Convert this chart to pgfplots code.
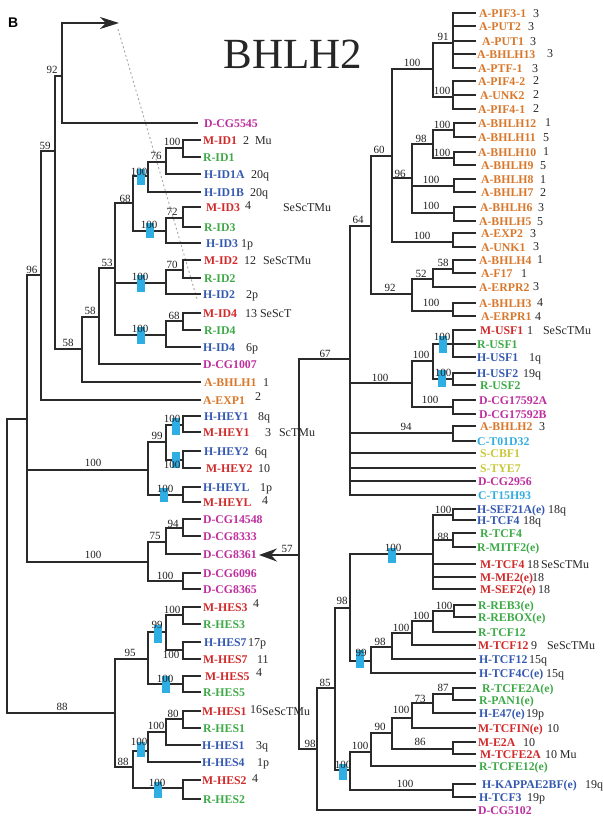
\documentclass[border=0pt]{standalone}
\usepackage{pgfplots}
\pgfplotsset{compat=1.18}
\usepackage{fontspec}
\setmainfont{Liberation Serif}
\newfontfamily\sansfont{Liberation Sans}
\usetikzlibrary{arrows.meta}
\definecolor{cM}{HTML}{D12A2A}
\definecolor{cR}{HTML}{3DAA47}
\definecolor{cH}{HTML}{3559B0}
\definecolor{cD}{HTML}{BF2E9E}
\definecolor{cA}{HTML}{D9772B}
\definecolor{cC}{HTML}{33AEE0}
\definecolor{cS}{HTML}{C9C83A}
\definecolor{cBox}{HTML}{2FAEE3}
\definecolor{cLine}{HTML}{2A2A2A}
\pgfplotsset{
  txtbase/.style={only marks, mark=*, mark size=0pt, mark options={draw=none,fill=none},
    point meta=explicit symbolic, nodes near coords},
  taxon/.style={txtbase, every node near coord/.append style={inner sep=0pt, outer sep=0pt,
    anchor=base west, yshift=-4.5pt, font=\fontsize{11.8}{12}\selectfont\bfseries, text=#1}},
  boot/.style={txtbase, every node near coord/.append style={inner sep=0pt, outer sep=0pt,
    anchor=center, font=\fontsize{11}{12}\selectfont, text=black!88}},
  chrom/.style={txtbase, every node near coord/.append style={inner sep=0pt, outer sep=0pt,
    anchor=base west, yshift=-4.5pt, font=\fontsize{12}{13}\selectfont, text=black!85}},
}
\begin{document}
\begin{tikzpicture}
\begin{axis}[scale only axis, width=603pt, height=823pt,
  xmin=0, xmax=603, ymin=0, ymax=823, y dir=reverse, hide axis, clip=false]
% dotted guide
\addplot[black!35, line width=0.9pt, mark=none, dash pattern=on 2pt off 2.5pt] coordinates {(118,29)(197,299)};
% left tree
\addplot[cLine, line width=1.2pt, mark=none, line cap=rect, unbounded coords=jump] coordinates {
(197,123)(62,123)(62,23) (nan,nan)
(55,76)(62,76) (nan,nan) (41,151)(55,151) (nan,nan) (55,76)(55,349) (nan,nan)
(200,140)(183,140)(183,157)(200,157) (nan,nan) (166,148)(183,148) (nan,nan)
(200,174)(166,174)(166,148) (nan,nan) (148,162)(166,162) (nan,nan)
(200,192)(148,192)(148,162) (nan,nan) (133,176)(148,176) (nan,nan)
(200,207)(183,207)(183,227)(200,227) (nan,nan) (166,218)(183,218) (nan,nan)
(200,243)(166,243)(166,218) (nan,nan) (133,231)(166,231) (nan,nan)
(133,176)(133,231) (nan,nan) (115,203)(133,203) (nan,nan)
(200,260)(183,260)(183,278)(200,278) (nan,nan) (166,270)(183,270) (nan,nan)
(200,294)(166,294)(166,270) (nan,nan) (115,283)(166,283) (nan,nan)
(200,313)(183,313)(183,330)(200,330) (nan,nan) (166,321)(183,321) (nan,nan)
(200,347)(166,347)(166,321) (nan,nan) (115,335)(166,335) (nan,nan)
(115,203)(115,335) (nan,nan) (99,268)(115,268) (nan,nan)
(200,364)(99,364)(99,268) (nan,nan) (82,317)(99,317) (nan,nan)
(200,382)(82,382)(82,317) (nan,nan) (55,349)(82,349) (nan,nan)
(200,400)(41,400)(41,151) (nan,nan) (27,275)(41,275) (nan,nan)
(200,416)(183,416)(183,432)(200,432) (nan,nan) (166,425)(183,425) (nan,nan)
(200,451)(183,451)(183,468)(200,468) (nan,nan) (166,460)(183,460) (nan,nan)
(166,425)(166,460) (nan,nan) (148,442)(166,442) (nan,nan)
(200,487)(183,487)(183,502)(200,502) (nan,nan) (148,495)(183,495) (nan,nan)
(148,442)(148,495) (nan,nan) (27,470)(148,470) (nan,nan)
(200,519)(183,519)(183,536)(200,536) (nan,nan) (166,528)(183,528) (nan,nan)
(200,554)(166,554)(166,528) (nan,nan) (148,542)(166,542) (nan,nan)
(200,573)(183,573)(183,589)(200,589) (nan,nan) (148,581)(183,581) (nan,nan)
(148,542)(148,581) (nan,nan) (27,562)(148,562) (nan,nan)
(27,275)(27,562) (nan,nan) (7,419)(27,419) (nan,nan)
(200,607)(183,607)(183,624)(200,624) (nan,nan) (166,615)(183,615) (nan,nan)
(200,642)(183,642)(183,659)(200,659) (nan,nan) (166,650)(183,650) (nan,nan)
(166,615)(166,650) (nan,nan) (148,632)(166,632) (nan,nan)
(200,676)(183,676)(183,692)(200,692) (nan,nan) (148,684)(183,684) (nan,nan)
(148,632)(148,684) (nan,nan) (115,659)(148,659) (nan,nan)
(200,711)(183,711)(183,728)(200,728) (nan,nan) (166,719)(183,719) (nan,nan)
(200,745)(166,745)(166,719) (nan,nan) (148,732)(166,732) (nan,nan)
(200,762)(148,762)(148,732) (nan,nan) (133,751)(148,751) (nan,nan)
(200,780)(183,780)(183,799)(200,799) (nan,nan) (133,788)(183,788) (nan,nan)
(133,751)(133,788) (nan,nan) (115,767)(133,767) (nan,nan)
(115,659)(115,767) (nan,nan) (7,713)(115,713) (nan,nan)
(7,419)(7,713)
};
% right tree
\addplot[cLine, line width=1.2pt, mark=none, line cap=rect, unbounded coords=jump] coordinates {
(475,13)(453,13)(453,68)(475,68) (nan,nan) (453,26)(475,26) (nan,nan) (453,41)(475,41) (nan,nan) (453,54)(475,54) (nan,nan)
(433,43)(453,43) (nan,nan)
(475,81)(453,81)(453,109)(475,109) (nan,nan) (453,95)(475,95) (nan,nan) (433,97)(453,97) (nan,nan)
(433,43)(433,97) (nan,nan) (392,69)(433,69) (nan,nan)
(475,123)(454,123)(454,137)(475,137) (nan,nan) (433,130)(454,130) (nan,nan)
(475,152)(454,152)(454,165)(475,165) (nan,nan) (433,158)(454,158) (nan,nan)
(433,130)(433,158) (nan,nan) (412,144)(433,144) (nan,nan)
(475,179)(454,179)(454,192)(475,192) (nan,nan) (412,186)(454,186) (nan,nan)
(475,207)(454,207)(454,221)(475,221) (nan,nan) (412,213)(454,213) (nan,nan)
(412,144)(412,213) (nan,nan) (392,178)(412,178) (nan,nan)
(475,233)(453,233)(453,247)(475,247) (nan,nan) (392,242)(453,242) (nan,nan)
(392,69)(392,242) (nan,nan) (371,156)(392,156) (nan,nan)
(475,260)(453,260)(453,273)(475,273) (nan,nan) (433,269)(453,269) (nan,nan)
(475,287)(433,287)(433,269) (nan,nan) (412,279)(433,279) (nan,nan)
(475,303)(453,303)(453,316)(475,316) (nan,nan) (412,311)(453,311) (nan,nan)
(412,279)(412,311) (nan,nan) (371,294)(412,294) (nan,nan)
(371,156)(371,294) (nan,nan) (350,226)(371,226) (nan,nan)
(475,330)(453,330)(453,357)(475,357) (nan,nan) (453,344)(475,344) (nan,nan) (433,344)(453,344) (nan,nan)
(475,373)(453,373)(453,385)(475,385) (nan,nan) (433,379)(453,379) (nan,nan)
(433,344)(433,379) (nan,nan) (412,361)(433,361) (nan,nan)
(475,400)(453,400)(453,414)(475,414) (nan,nan) (412,407)(453,407) (nan,nan)
(412,361)(412,407) (nan,nan) (350,383)(412,383) (nan,nan)
(475,426)(453,426)(453,441)(475,441) (nan,nan) (350,433)(453,433) (nan,nan)
(350,453)(475,453) (nan,nan) (350,468)(475,468) (nan,nan) (350,481)(475,481) (nan,nan)
(475,495)(350,495)(350,226) (nan,nan) (299,359)(350,359) (nan,nan)
(475,509)(453,509)(453,520)(475,520) (nan,nan) (433,515)(453,515) (nan,nan)
(475,533)(453,533)(453,547)(475,547) (nan,nan) (433,540)(453,540) (nan,nan)
(433,564)(475,564) (nan,nan) (433,577)(475,577) (nan,nan)
(475,589)(433,589)(433,515) (nan,nan) (350,554)(433,554) (nan,nan)
(475,605)(454,605)(454,617)(475,617) (nan,nan) (433,611)(454,611) (nan,nan)
(475,632)(433,632)(433,611) (nan,nan) (412,621)(433,621) (nan,nan)
(475,645)(412,645)(412,621) (nan,nan) (392,633)(412,633) (nan,nan)
(475,659)(392,659)(392,633) (nan,nan) (371,647)(392,647) (nan,nan)
(475,673)(371,673)(371,647) (nan,nan) (350,661)(371,661) (nan,nan)
(350,554)(350,661) (nan,nan) (335,608)(350,608) (nan,nan)
(475,688)(453,688)(453,700)(475,700) (nan,nan) (433,694)(453,694) (nan,nan)
(475,713)(433,713)(433,694) (nan,nan) (412,703)(433,703) (nan,nan)
(475,728)(412,728)(412,703) (nan,nan) (392,718)(412,718) (nan,nan)
(475,742)(453,742)(453,754)(475,754) (nan,nan) (392,749)(453,749) (nan,nan)
(392,718)(392,749) (nan,nan) (371,733)(392,733) (nan,nan)
(475,766)(371,766)(371,733) (nan,nan) (350,752)(371,752) (nan,nan)
(475,784)(453,784)(453,797)(475,797) (nan,nan) (350,790)(453,790) (nan,nan)
(350,752)(350,790) (nan,nan) (335,770)(350,770) (nan,nan)
(335,608)(335,770) (nan,nan) (317,688)(335,688) (nan,nan)
(475,810)(317,810)(317,688) (nan,nan) (299,749)(317,749) (nan,nan)
(299,359)(299,749)
};
% blue boxes (over the lines)
\addplot[cBox, line width=8pt, mark=none, unbounded coords=jump] coordinates {
(141,169)(141,185) (nan,nan) (150,223)(150,238) (nan,nan) (140.5,275)(140.5,292) (nan,nan)
(140.5,327)(140.5,344) (nan,nan) (176,418)(176,435) (nan,nan) (176,452)(176,468) (nan,nan)
(164,488)(164,502) (nan,nan) (158,625)(158,643) (nan,nan) (166,676)(166,693) (nan,nan)
(140.5,742)(140.5,757) (nan,nan) (158,782)(158,798) (nan,nan) (442.5,336)(442.5,353) (nan,nan)
(441.5,370)(441.5,387) (nan,nan) (391.5,548)(391.5,563) (nan,nan) (360,650)(360,668) (nan,nan)
(342.5,764)(342.5,780)
};
% arrows
\addplot[cLine, line width=1.3pt, mark=none, -{Stealth[length=19pt, width=12pt, inset=6pt]}] coordinates {(62,23)(119,23)};
\addplot[cLine, line width=1.3pt, mark=none, -{Stealth[length=18pt, width=13pt, inset=6pt]}] coordinates {(299,555)(259,555)};
% taxa
\addplot[taxon=cD] coordinates {(204,123)[D-CG5545] (203,364)[D-CG1007] (203,519)[D-CG14548] (203,536)[D-CG8333] (203,554)[D-CG8361] (203,573)[D-CG6096] (203,589)[D-CG8365] (479,400)[D-CG17592A] (479,414)[D-CG17592B] (478,481)[D-CG2956] (478,810)[D-CG5102]};
\addplot[taxon=cM] coordinates {(203,140)[M-ID1] (206,207)[M-ID3] (204,260)[M-ID2] (203,313)[M-ID4] (203,432)[M-HEY1] (206,468)[M-HEY2] (203,502)[M-HEYL] (203,607)[M-HES3] (203,659)[M-HES7] (205,676)[M-HES5] (202,711)[M-HES1] (202,780)[M-HES2] (480,330)[M-USF1] (480,564)[M-TCF4] (480,577)[M-ME2(e)] (480,589)[M-SEF2(e)] (478,645)[M-TCF12] (478,728)[M-TCFIN(e)] (478,742)[M-E2A] (480,754)[M-TCFE2A]};
\addplot[taxon=cR] coordinates {(203,157)[R-ID1] (204,227)[R-ID3] (204,278)[R-ID2] (204,330)[R-ID4] (203,624)[R-HES3] (203,692)[R-HES5] (203,728)[R-HES1] (203,799)[R-HES2] (477,344)[R-USF1] (480,385)[R-USF2] (480,533)[R-TCF4] (477,547)[R-MITF2(e)] (478,605)[R-REB3(e)] (478,617)[R-REBOX(e)] (478,632)[R-TCF12] (482,688)[R-TCFE2A(e)] (479,700)[R-PAN1(e)] (479,766)[R-TCFE12(e)]};
\addplot[taxon=cH] coordinates {(204,174)[H-ID1A] (204,192)[H-ID1B] (206,243)[H-ID3] (203,294)[H-ID2] (203,347)[H-ID4] (204,416)[H-HEY1] (204,451)[H-HEY2] (203,487)[H-HEYL] (204,642)[H-HES7] (202,745)[H-HES1] (202,762)[H-HES4] (477,357)[H-USF1] (477,373)[H-USF2] (477,509)[H-SEF21A(e)] (477,520)[H-TCF4] (479,659)[H-TCF12] (479,673)[H-TCF4C(e)] (479,713)[H-E47(e)] (482,784)[H-KAPPAE2BF(e)] (479,797)[H-TCF3]};
\addplot[taxon=cA] coordinates {(204,382)[A-BHLH1] (203,400)[A-EXP1] (479,13)[A-PIF3-1] (479,26)[A-PUT2] (482,41)[A-PUT1] (477,54)[A-BHLH13] (478,68)[A-PTF-1] (478,81)[A-PIF4-2] (480,95)[A-UNK2] (478,109)[A-PIF4-1] (478,123)[A-BHLH12] (478,137)[A-BHLH11] (478,152)[A-BHLH10] (481,165)[A-BHLH9] (481,179)[A-BHLH8] (481,192)[A-BHLH7] (480,207)[A-BHLH6] (479,221)[A-BHLH5] (481,233)[A-EXP2] (481,247)[A-UNK1] (479,260)[A-BHLH4] (481,273)[A-F17] (479,287)[A-ERPR2] (479,303)[A-BHLH3] (481,316)[A-ERPR1] (480,426)[A-BHLH2]};
\addplot[taxon=cC] coordinates {(477,441)[C-T01D32] (478,495)[C-T15H93]};
\addplot[taxon=cS] coordinates {(480,453)[S-CBF1] (480,468)[S-TYE7]};
% chromosome / notes
\addplot[chrom] coordinates {(243,140)[2] (255,140)[Mu] (251,174)[20q] (250,192)[20q] (245,205)[4] (283,207)[SeScTMu] (241,243)[1p] (244,260)[12] (263,260)[SeScTMu] (246,294)[2p] (245,313)[13] (260,313)[SeScT] (246,347)[6p] (263,382)[1] (255,396)[2] (258,416)[8q] (265,432)[3] (279,432)[ScTMu] (255,451)[6q] (258,468)[10] (260,487)[1p] (262,500)[4] (253,603)[4] (248,642)[17p] (257,659)[11] (256,672)[4] (250,709)[16] (262,711)[SeScTMu] (256,745)[3q] (257,762)[1p] (252,778)[4]
(533,13)[3] (528,26)[3] (530,41)[3] (547,53)[3] (532,68)[3] (533,80)[2] (533,94)[2] (533,108)[2] (545,122)[1] (543,137)[5] (543,151)[1] (540,165)[5] (540,179)[1] (540,192)[2] (538,207)[3] (537,221)[5] (530,233)[3] (533,246)[3] (537,259)[1] (521,273)[1] (533,286)[3] (537,302)[4] (535,316)[4] (527,330)[1] (543,330)[SeScTMu] (529,357)[1q] (523,373)[19q] (539,426)[3] (548,509)[18q] (523,520)[18q] (527,564)[18] (541,564)[SeScTMu] (532,577)[18] (538,589)[18] (531,645)[9] (547,645)[SeScTMu] (529,659)[15q] (546,673)[15q] (526,713)[19p] (547,728)[10] (523,742)[10] (545,754)[10 Mu] (585,784)[19q] (527,797)[19p]};
% bootstrap values
\addplot[boot] coordinates {(52,70)[92] (45,146)[59] (32,270)[96] (172,142)[100] (156,156)[76] (139,172)[100] (125,199)[68] (149,225)[100] (172,212)[72] (107,263)[53] (140,277)[100] (172,265)[70] (90,311)[58] (174,316)[68] (140,329)[100] (68,343)[58] (172,419)[100] (172,465)[100] (157,436)[99] (165,489)[100] (93,463)[100] (173,524)[94] (155,536)[75] (165,576)[100] (93,555)[100] (287,549)[57] (172,610)[100] (171,655)[100] (157,625)[99] (165,679)[100] (130,653)[95] (62,707)[88] (173,714)[80] (156,726)[100] (139,742)[100] (123,762)[88] (157,783)[100]
(443,37)[91] (442,91)[100] (412,63)[100] (442,125)[100] (442,153)[100] (421,139)[98] (400,174)[96] (431,180)[100] (379,150)[60] (431,206)[100] (422,236)[100] (358,220)[64] (443,263)[58] (421,274)[52] (390,288)[92] (431,303)[100] (442,337)[100] (443,373)[100] (421,355)[100] (380,378)[100] (325,354)[67] (430,400)[100] (406,427)[94] (443,510)[100] (443,537)[88] (393,548)[100] (342,601)[98] (444,606)[100] (421,616)[100] (401,628)[100] (380,642)[98] (361,653)[99] (443,688)[87] (420,699)[73] (401,710)[100] (380,727)[90] (420,742)[86] (360,746)[100] (405,784)[100] (343,765)[100] (325,683)[85] (310,744)[98]};
% title and panel letter
\addplot[txtbase, every node near coord/.append style={inner sep=0pt, anchor=base, font=\fontsize{43}{46}\selectfont, text=black!85}] coordinates {(293,68)[BHLH2]};
\addplot[txtbase, every node near coord/.append style={inner sep=0pt, anchor=base west, font=\sansfont\bfseries\fontsize{14}{16}\selectfont, text=black}] coordinates {(8,27)[B]};
\end{axis}
\pgfresetboundingbox
\path (0,0) rectangle (603pt,823pt);
\end{tikzpicture}
\end{document}
